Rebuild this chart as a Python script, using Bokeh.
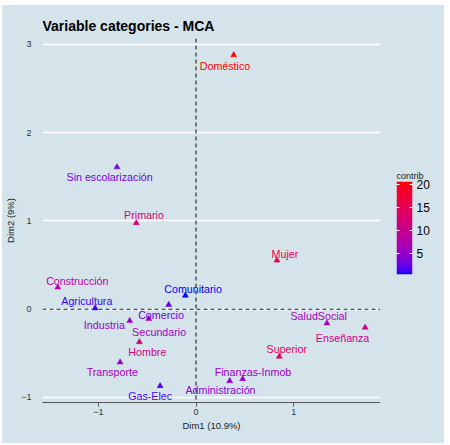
import numpy as np
from bokeh.plotting import figure
from bokeh.layouts import row, column
from bokeh.models import (ColumnDataSource, LinearColorMapper, FixedTicker,
                          Span, Range1d, Spacer, LinearAxis)
from bokeh.transform import transform
from bokeh.core.properties import value
from bokeh.embed import file_html
from bokeh.resources import INLINE

# ---- data ----
categories = ["Doméstico", "Sin escolarización", "Primario", "Mujer", "Construcción",
              "Comunitario", "Agricultura", "Comercio", "Secundario", "Industria",
              "Hombre", "Transporte", "Gas-Elec", "Administración", "Finanzas-Inmob",
              "Superior", "SaludSocial", "Enseñanza"]
dim1 = [0.386, -0.81, -0.612, 0.829, -1.416,
        -0.109, -1.034, -0.28, -0.484, -0.679,
        -0.58, -0.778, -0.368, 0.345, 0.478,
        0.853, 1.341, 1.733]
dim2 = [2.88, 1.61, 0.977, 0.553, 0.247,
        0.156, 0.011, 0.05, -0.109, -0.132,
        -0.371, -0.602, -0.87, -0.814, -0.79,
        -0.537, -0.159, -0.208]
contrib = [20.7, 3.0, 11.5, 16.0, 8.5,
           0.4, 1.0, 2.5, 6.0, 5.0,
           11.5, 6.0, 1.5, 4.5, 5.5,
           14.0, 6.5, 10.5]
# label displacement (pixels, repel layout)
label_dx = [-8.7, -7.4, 7.7, 8.0, 19.5,
            7.7, -8.3, -7.7, 10.3, -25.4,
            7.9, -7.8, -10.0, -9.2, 10.3,
            7.5, -8.2, -22.6]
label_dy = [10.7, 10.3, -7.7, -6.3, -6.0,
            -6.7, -7.7, 10.7, 12.7, 4.4,
            9.7, 9.3, 10.0, 9.0, -7.0,
            -8.0, -7.4, 10.0]
x_ticks = [-1, 0, 1]
y_ticks = [-1, 0, 1, 2, 3]
legend_ticks = [5, 10, 15, 20]

# ---- blue -> red gradient interpolated in CIE Lab ----
_M = np.array([[0.4124, 0.3576, 0.1805], [0.2126, 0.7152, 0.0722], [0.0193, 0.1192, 0.9505]])
_W = np.array([0.95047, 1.0, 1.08883])

def _to_lab(rgb):
    c = np.array(rgb, float) / 255.0
    lin = np.where(c <= 0.04045, c / 12.92, ((c + 0.055) / 1.055) ** 2.4)
    xyz = _M @ lin / _W
    f = np.where(xyz > 0.008856, np.cbrt(xyz), 7.787 * xyz + 16 / 116)
    return np.array([116 * f[1] - 16, 500 * (f[0] - f[1]), 200 * (f[1] - f[2])])

def _to_hex(lab):
    L, a, b = lab
    fy = (L + 16) / 116
    f = np.array([fy + a / 500, fy, fy - b / 200])
    xyz = np.where(f ** 3 > 0.008856, f ** 3, (f - 16 / 116) / 7.787) * _W
    lin = np.clip(np.linalg.inv(_M) @ xyz, 0, 1)
    c = np.where(lin <= 0.0031308, 12.92 * lin, 1.055 * lin ** (1 / 2.4) - 0.055)
    c = np.clip(np.round(c * 255), 0, 255).astype(int)
    return "#%02x%02x%02x" % tuple(c)

lab_lo, lab_hi = _to_lab((0, 0, 255)), _to_lab((255, 0, 0))
palette = [_to_hex(lab_lo + (lab_hi - lab_lo) * t) for t in np.linspace(0, 1, 256)]

cmin, cmax = min(contrib), max(contrib)
mapper = LinearColorMapper(palette=palette, low=cmin, high=cmax)

source = ColumnDataSource(dict(cat=categories, x=dim1, y=dim2, contrib=contrib,
                               dx=label_dx, dy=label_dy))

BG = "#d5e4eb"
FONT = "Liberation Sans"

# ================= main panel =================
p = figure(frame_width=338, frame_height=364, output_backend="svg", toolbar_location=None,
           x_range=Range1d(-1.573, 1.89), y_range=Range1d(-1.0575, 3.0675),
           min_border_left=0, min_border_right=0, min_border_top=33, min_border_bottom=41,
           background_fill_color=BG, border_fill_color=BG, outline_line_color=None,
           frame_align=False)

p.title.text = "Variable categories - MCA"
p.title.text_font = FONT
p.title.text_font_size = "14px"
p.title.text_font_style = "bold"
p.title.text_color = "black"
p.title.align = "left"
p.title.offset = 0
p.title.standoff = 9

p.xgrid.visible = False
p.ygrid.ticker = FixedTicker(ticks=y_ticks)
p.ygrid.grid_line_color = "white"
p.ygrid.grid_line_width = 1.6

p.xaxis.ticker = FixedTicker(ticks=x_ticks)
p.yaxis.ticker = FixedTicker(ticks=y_ticks)
p.xaxis.axis_label = "Dim1 (10.9%)"
p.yaxis.axis_label = "Dim2 (9%)"
for ax in (p.xaxis, p.yaxis):
    ax.axis_label_text_font = FONT
    ax.axis_label_text_font_size = "9.5px"
    ax.axis_label_text_font_style = "normal"
    ax.axis_label_text_color = "#222222"
    ax.major_label_text_font = FONT
    ax.major_label_text_font_size = "9px"
    ax.major_label_text_color = "#333333"
    ax.minor_tick_line_color = None
p.xaxis.axis_line_color = "#555555"
p.xaxis.axis_line_width = 1.2
p.xaxis.major_tick_line_color = "#555555"
p.xaxis.major_tick_in = 0
p.xaxis.major_tick_out = 4
p.xaxis.major_label_standoff = 2
p.xaxis.axis_label_standoff = 2
p.yaxis.axis_line_color = None
p.yaxis.major_tick_line_color = None
p.yaxis.major_label_standoff = 5
p.yaxis.axis_label_standoff = 2

for dim in ("width", "height"):
    p.add_layout(Span(location=0, dimension=dim, line_color="#222222", line_width=1.1,
                      line_dash="4 3", level="underlay"))

col = transform("contrib", mapper)
p.scatter("x", "y", source=source, marker="triangle", size=6, fill_color=col, line_color=col,
          line_width=0.5)
p.text("x", "y", text="cat", source=source, x_offset="dx", y_offset="dy",
       text_align="center", text_baseline="middle", text_color=col,
       text_font=value(FONT), text_font_size="10.7px")

# ================= colour-bar legend =================
lg = figure(frame_width=16, frame_height=93, output_backend="svg", toolbar_location=None,
            x_range=Range1d(0, 1), y_range=Range1d(cmin, cmax),
            min_border_left=16, min_border_right=32, min_border_top=176, min_border_bottom=169,
            background_fill_color=BG, border_fill_color=BG, outline_line_color=None,
            x_axis_location=None, y_axis_location="right", frame_align=False)
lg.grid.visible = False
lg.image(image=[np.linspace(cmin, cmax, 256).reshape(-1, 1)], x=0, y=cmin, dw=1,
         dh=cmax - cmin, color_mapper=mapper)
lg.title.text = "contrib"
lg.title.text_font = FONT
lg.title.text_font_size = "9px"
lg.title.text_font_style = "normal"
lg.title.text_color = "#222222"
lg.title.align = "left"
lg.title.offset = 0
lg.title.standoff = 2
ya = lg.yaxis[0]
ya.ticker = FixedTicker(ticks=legend_ticks)
ya.axis_line_color = None
ya.major_tick_line_color = "white"
ya.major_tick_in = 3
ya.major_tick_out = 0
ya.minor_tick_line_color = None
ya.major_label_text_font = FONT
ya.major_label_text_font_size = "12px"
ya.major_label_text_color = "black"
ya.major_label_standoff = 4
la = LinearAxis(ticker=FixedTicker(ticks=legend_ticks), axis_line_color=None,
                major_tick_line_color="white", major_tick_in=3, major_tick_out=0,
                minor_tick_line_color=None, major_label_text_font_size="1px",
                major_label_text_alpha=0, major_label_standoff=0)
lg.add_layout(la, "left")

panel = row(p, lg, styles={"background-color": BG})
layout = column(Spacer(height=5), row(Spacer(width=2), panel))
open("out.html", "w").write(file_html(layout, INLINE))
